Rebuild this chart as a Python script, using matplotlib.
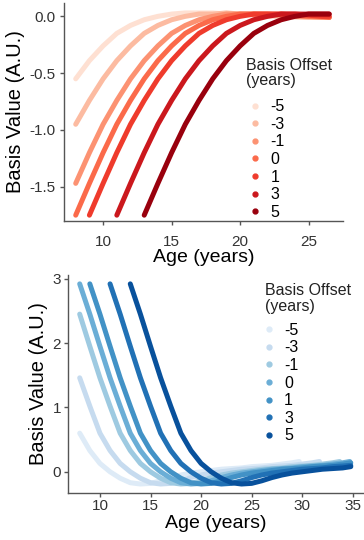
'''
Basis functions for different age offsets (two panels)
'''
import matplotlib.pyplot as plt
from matplotlib.lines import Line2D

plt.rcParams['font.family'] = ['Liberation Sans', 'DejaVu Sans']

# legend entries, shared by both panels
offsets = ['-5', '-3', '-1', '0', '1', '3', '5']
red_colors = ['#fee0d2', '#fcbba1', '#fc9272', '#fb6a4a', '#ef3b2c', '#cb181d', '#99000d']
blue_colors = ['#deebf7', '#c6dbef', '#9ecae1', '#6baed6', '#4292c6', '#2171b5', '#08519c']

# top panel: first age of each curve, last age, and values
red_start = [8, 8, 8, 8, 9, 11, 13]
red_end = [26.5, 26.5, 26.5, 26.5, 26.5, 26.5, 26.5]
red_values = [
    [-0.55, -0.39, -0.26, -0.15, -0.08, -0.03, 0.00, 0.02, 0.03, 0.03, 0.03, 0.02, 0.02, 0.01, 0.00, 0.00, -0.01, -0.01, -0.01, -0.01],
    [-0.95, -0.74, -0.55, -0.39, -0.26, -0.15, -0.08, -0.03, 0.00, 0.02, 0.02, 0.03, 0.02, 0.02, 0.01, 0.00, 0.00, -0.01, -0.01, -0.01],
    [-1.47, -1.20, -0.95, -0.74, -0.55, -0.39, -0.26, -0.15, -0.08, -0.03, 0.00, 0.02, 0.02, 0.02, 0.02, 0.01, 0.00, 0.00, -0.01, -0.01],
    [-1.75, -1.47, -1.20, -0.95, -0.74, -0.55, -0.39, -0.26, -0.15, -0.08, -0.03, 0.00, 0.02, 0.02, 0.02, 0.02, 0.01, 0.00, 0.00, -0.01],
    [-1.75, -1.47, -1.20, -0.95, -0.74, -0.55, -0.39, -0.26, -0.15, -0.08, -0.03, 0.00, 0.02, 0.02, 0.02, 0.02, 0.01, 0.00, 0.00],
    [-1.75, -1.47, -1.20, -0.95, -0.74, -0.55, -0.39, -0.26, -0.15, -0.08, -0.03, 0.00, 0.02, 0.02, 0.02, 0.02, 0.02],
    [-1.75, -1.47, -1.20, -0.95, -0.74, -0.55, -0.39, -0.26, -0.15, -0.08, -0.03, 0.00, 0.02, 0.02, 0.02],
]

# bottom panel
blue_start = [8, 8, 8, 8, 9, 11, 13]
blue_end = [29.7, 31.7, 33.7, 34.7, 34.8, 34.8, 34.8]
blue_values = [
    [0.60, 0.33, 0.13, 0.00, -0.10, -0.17, -0.19, -0.18, -0.14, -0.09, -0.05, -0.02, 0.00, 0.02, 0.04, 0.05, 0.06, 0.08, 0.09, 0.10, 0.12, 0.14, 0.16],
    [1.46, 1.02, 0.60, 0.33, 0.13, 0.00, -0.10, -0.17, -0.19, -0.18, -0.14, -0.09, -0.05, -0.02, 0.00, 0.02, 0.04, 0.05, 0.06, 0.08, 0.09, 0.10, 0.12, 0.14, 0.16],
    [2.45, 1.95, 1.46, 1.02, 0.60, 0.33, 0.13, 0.00, -0.10, -0.17, -0.19, -0.18, -0.14, -0.09, -0.05, -0.02, 0.00, 0.02, 0.04, 0.05, 0.06, 0.08, 0.09, 0.10, 0.12, 0.14, 0.16],
    [2.92, 2.45, 1.95, 1.46, 1.02, 0.60, 0.33, 0.13, 0.00, -0.10, -0.17, -0.19, -0.18, -0.14, -0.09, -0.05, -0.02, 0.00, 0.02, 0.04, 0.05, 0.06, 0.08, 0.09, 0.10, 0.12, 0.14, 0.16],
    [2.92, 2.45, 1.95, 1.46, 1.02, 0.60, 0.33, 0.13, 0.00, -0.10, -0.17, -0.19, -0.18, -0.14, -0.09, -0.05, -0.02, 0.00, 0.02, 0.04, 0.05, 0.06, 0.08, 0.09, 0.10, 0.12, 0.14],
    [2.92, 2.45, 1.95, 1.46, 1.02, 0.60, 0.33, 0.13, 0.00, -0.10, -0.17, -0.19, -0.18, -0.14, -0.09, -0.05, -0.02, 0.00, 0.02, 0.04, 0.05, 0.06, 0.08, 0.09, 0.10],
    [2.92, 2.45, 1.95, 1.46, 1.02, 0.60, 0.33, 0.13, 0.00, -0.10, -0.17, -0.19, -0.18, -0.14, -0.09, -0.05, -0.02, 0.00, 0.02, 0.04, 0.05, 0.06, 0.08],
]

red_yticks = [0.0, -0.5, -1.0, -1.5]
red_ylabels = ['0.0', '-0.5', '-1.0', '-1.5']
blue_yticks = [0, 1, 2, 3]


def ages_for(start, end):
    # whole years from the first age, then the last age
    return list(range(start, int(end) + 1)) + [end]


def draw_panel(fig, rect, starts, ends, values, colors, xlim, ylim, xticks, yticks, ylabels,
               ylab_x, xlab_y, xpad, ypad, title_xy, legend_xy):
    ax = fig.add_axes(rect)
    for s, e, v, c in zip(starts, ends, values, colors):
        ax.plot(ages_for(s, e), v, color=c, lw=3.6, solid_capstyle='round', solid_joinstyle='round')
    ax.set_xlim(*xlim)
    ax.set_ylim(*ylim)
    ax.set_xticks(xticks)
    ax.set_yticks(yticks)
    ax.set_yticklabels(ylabels)
    for side in ['top', 'right']:
        ax.spines[side].set_visible(False)
    for side in ['left', 'bottom']:
        ax.spines[side].set_color('#555555')
        ax.spines[side].set_linewidth(1.0)
    ax.tick_params(length=3, width=1.0, color='#555555', labelsize=11, labelcolor='#333333')
    ax.tick_params(axis='x', pad=xpad)
    ax.tick_params(axis='y', pad=ypad)
    ax.set_xlabel('Age (years)', fontsize=14)
    ax.set_ylabel('Basis Value (A.U.)', fontsize=14.5)
    ax.yaxis.set_label_coords(ylab_x, 0.5)
    ax.xaxis.set_label_coords(0.5, xlab_y)
    # legend title drawn on its own so the gap to the entries can match
    fig.text(title_xy[0], title_xy[1], 'Basis Offset\n(years)', ha='left', va='top',
             fontsize=11.5, linespacing=1.05, color='#222222')
    handles = [Line2D([], [], ls='', marker='o', ms=3.5, color=c) for c in colors]
    ax.legend(handles, offsets, loc='upper left',
              bbox_to_anchor=legend_xy, bbox_transform=fig.transFigure, frameon=False,
              fontsize=11.5, handlelength=1.5, handletextpad=0.2,
              labelspacing=0.16, borderpad=0, borderaxespad=0)
    return ax


def create_graph():
    fig = plt.figure(figsize=(3.64, 5.4), dpi=100)
    draw_panel(fig, [0.176, 0.591, 0.766, 0.404], red_start, red_end, red_values, red_colors,
               (7.15, 27.5), (-1.8, 0.12), [10, 15, 20, 25], red_yticks, red_ylabels,
               -0.14, -0.13, 7, 3, (0.676, 0.893), (0.668, 0.816))
    draw_panel(fig, [0.187, 0.087, 0.81, 0.404], blue_start, blue_end, blue_values, blue_colors,
               (6.85, 36.0), (-0.33, 3.06), [10, 15, 20, 25, 30, 35], blue_yticks,
               [str(t) for t in blue_yticks], -0.068, -0.1, 1, 2, (0.728, 0.476), (0.706, 0.402))
    fig.savefig('out.png', dpi=100)


if __name__ == '__main__':
    create_graph()
